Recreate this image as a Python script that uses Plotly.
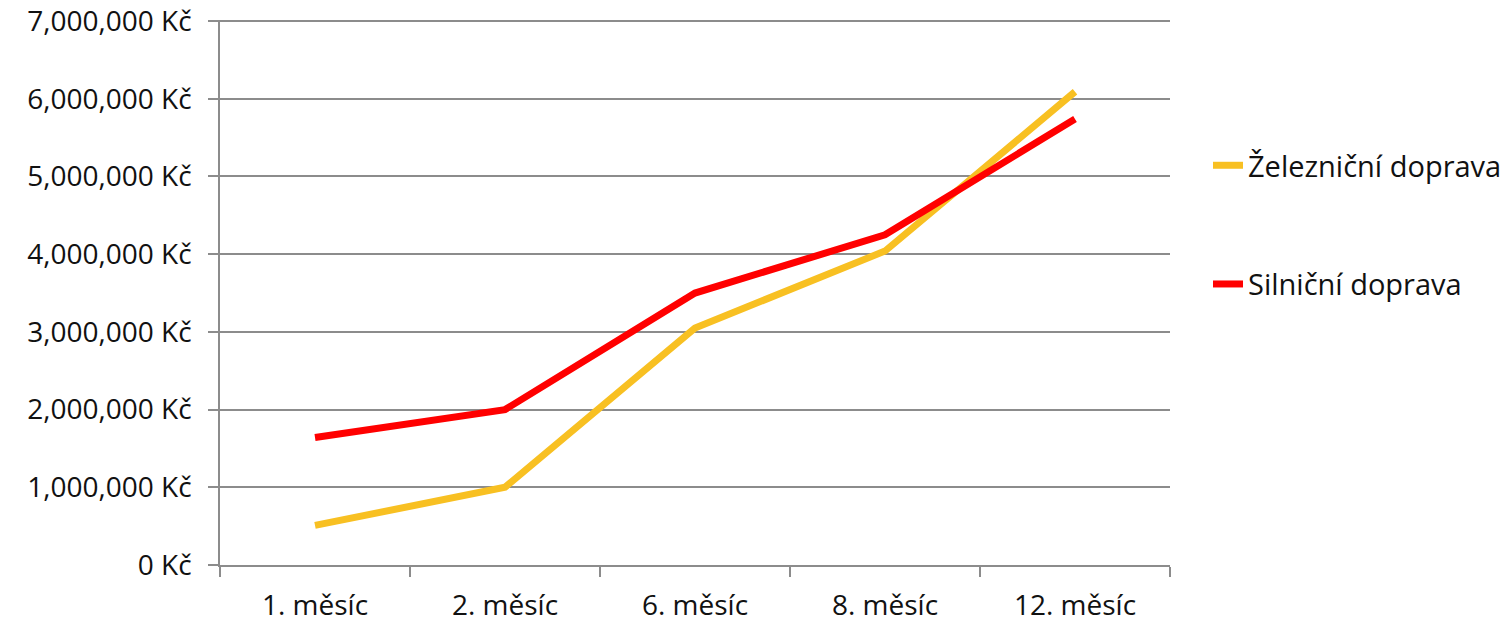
import plotly.graph_objects as go

categories = ["1. měsíc", "2. měsíc", "6. měsíc", "8. měsíc", "12. měsíc"]
zeleznicni = [510000, 1000000, 3050000, 4040000, 6090000]
silnicni = [1640000, 2000000, 3500000, 4250000, 5740000]
y_ticks = [0, 1000000, 2000000, 3000000, 4000000, 5000000, 6000000, 7000000]
y_ticktext = [f"{v:,} Kč" for v in y_ticks]

FONT = "Open Sans"
GRID = "#8c8c8c"

fig = go.Figure()
fig.add_trace(go.Scatter(x=categories, y=zeleznicni, mode="lines",
                         name="Železniční doprava", legendgroup="a",
                         line=dict(color="#F8C022", width=7)))
fig.add_trace(go.Scatter(x=categories, y=silnicni, mode="lines",
                         name="Silniční doprava", legendgroup="b",
                         line=dict(color="#FF0000", width=7)))

fig.update_layout(
    width=1512, height=623,
    margin=dict(l=212, r=350, t=12, b=66),
    paper_bgcolor="white", plot_bgcolor="white",
    font=dict(family=FONT, size=28, color="#111111"),
    showlegend=True,
    legend=dict(x=1.04, xanchor="left", y=0.624, yanchor="middle",
                tracegroupgap=78, font=dict(size=29, family=FONT),
                bgcolor="rgba(0,0,0,0)"),
    xaxis=dict(type="category", range=[-0.5, 4.5], showgrid=False,
               automargin=False,
               showline=True, linecolor=GRID, linewidth=1.5,
               ticks="outside", tickson="boundaries", ticklen=10,
               tickcolor=GRID, tickwidth=1.5, ticklabelstandoff=15,
               tickfont=dict(size=28, family=FONT)),
    yaxis=dict(range=[0, 7014000], tickmode="array", tickvals=y_ticks,
               ticktext=y_ticktext, automargin=False,
               ticklabeloverflow="allow",
               showgrid=True, gridcolor=GRID, gridwidth=1.5,
               showline=True, linecolor=GRID, linewidth=1.5,
               ticks="outside", ticklen=10, tickcolor=GRID, tickwidth=1.5,
               ticklabelstandoff=11,
               zeroline=False, tickfont=dict(size=28, family=FONT)),
)

fig.write_html("out.html")
